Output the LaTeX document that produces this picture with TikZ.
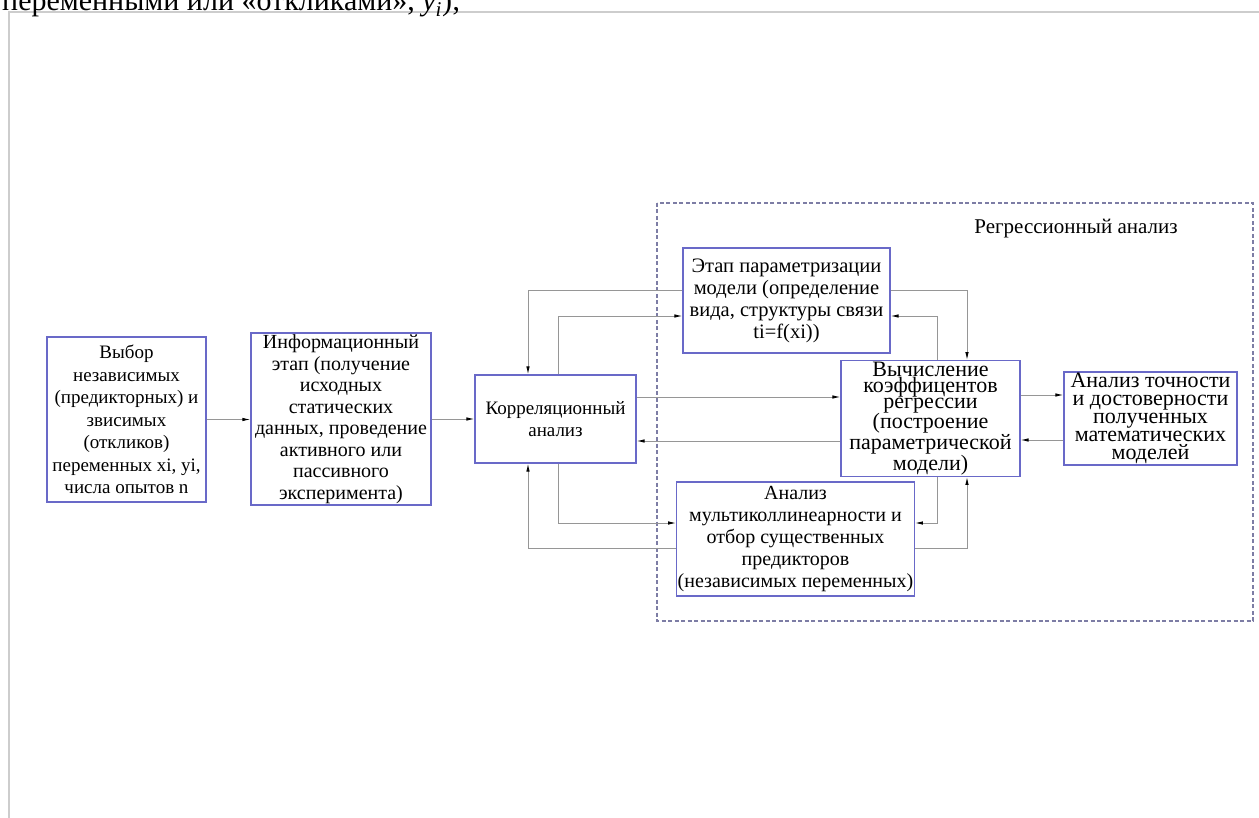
\documentclass[tikz,border=0pt]{standalone}
\usepackage{fontspec}
\setmainfont{Liberation Serif}
\usepackage{xcolor}
\definecolor{boxblue}{RGB}{105,105,200}
\definecolor{framegray}{RGB}{125,125,165}
\definecolor{linegray}{RGB}{150,150,150}
\definecolor{pagegray}{RGB}{205,205,205}
\usetikzlibrary{arrows.meta,positioning}
\tikzset{
  blk/.style={draw=boxblue, fill=white, line width=1.2pt, align=center, inner sep=1pt},
  link/.style={draw=linegray, line width=0.9pt, -{Latex[length=8pt,width=3.5pt,black]}},
}

\begin{document}
\begin{tikzpicture}[x=1pt,y=-1pt]
  \useasboundingbox (0,0) rectangle (1259,818);
  \clip (0,0) rectangle (1259,818);
  \draw[pagegray, line width=1.5pt] (9,818) -- (9,12) -- (1259,12);
  \node[anchor=base west, inner sep=0pt, font=\fontsize{30}{30}\selectfont] (top) at (2,11) {переменными или «откликами», \textit{y}\textsubscript{\textit{i}});};
  \draw[framegray, line width=1.2pt, dash pattern=on 4pt off 2.5pt] (657,203) rectangle (1253,621);
  \node[font=\fontsize{21}{24}\selectfont] (reg) at (1076,229) {Регрессионный анализ};

  \node[blk, minimum width=159pt, minimum height=165pt, font=\fontsize{19}{22.5}\selectfont] (b1) at (126.5,419.5) {Выбор\\независимых\\(предикторных) и\\звисимых\\(откликов)\\переменных xi, yi,\\числа опытов n};
  \node[blk, minimum width=180pt, minimum height=172pt, font=\fontsize{20}{21.5}\selectfont] (b2) at (341,419) {Информационный\\этап (получение\\исходных\\статических\\данных, проведение\\активного или\\пассивного\\эксперимента)};
  \node[blk, minimum width=161pt, minimum height=88pt, font=\fontsize{19}{22}\selectfont] (b3) at (555.5,419) {Корреляционный\\анализ};
  \node[blk, minimum width=207pt, minimum height=105pt, font=\fontsize{20.5}{22}\selectfont] (b4) at (786.5,300.5) {Этап параметризации\\модели (определение\\вида, структуры связи\\ti=f(xi))};
  \node[blk, minimum width=179pt, minimum height=97pt, font=\fontsize{22}{16}\selectfont] (b5) at (930.5,418.5) {Вычисление\\коэффицентов\\регрессии\\(построение\\параметрической\\модели)};
  \node[blk, minimum width=237pt, minimum height=114pt, font=\fontsize{20}{22}\selectfont] (b6) at (795.5,539) {Анализ\\мультиколлинеарности и\\отбор существенных\\предикторов\\(независимых переменных)};
  \node[blk, minimum width=173pt, minimum height=93pt, font=\fontsize{22}{18}\selectfont] (b7) at (1150.5,418.5) {Анализ точности\\и достоверности\\полученных\\математических\\моделей};

  \draw[link] (b1.east) -- (b1.east -| b2.west);
  \draw[link] (b2.east) -- (b2.east -| b3.west);
  \draw[link] (b4.west |- 0,290) -| (528,0 |- b3.north);
  \draw[link] (b4.east |- 0,290) -| (967,0 |- b5.north);
  \draw[link] (558,0 |- b3.north) |- (b4.west |- 0,316);
  \draw[link] (937,0 |- b5.north) |- (b4.east |- 0,316);
  \draw[link] (b3.east |- 0,397) -- (b5.west |- 0,397);
  \draw[link] (b5.west |- 0,441) -- (b3.east |- 0,441);
  \draw[link] (b5.east |- 0,395) -- (b7.west |- 0,395);
  \draw[link] (b7.west |- 0,440) -- (b5.east |- 0,440);
  \draw[link] (558,0 |- b3.south) |- (b6.west |- 0,523);
  \draw[link] (937,0 |- b5.south) |- (b6.east |- 0,523);
  \draw[link] (b6.west |- 0,548) -| (528,0 |- b3.south);
  \draw[link] (b6.east |- 0,548) -| (967,0 |- b5.south);
\end{tikzpicture}
\end{document}
